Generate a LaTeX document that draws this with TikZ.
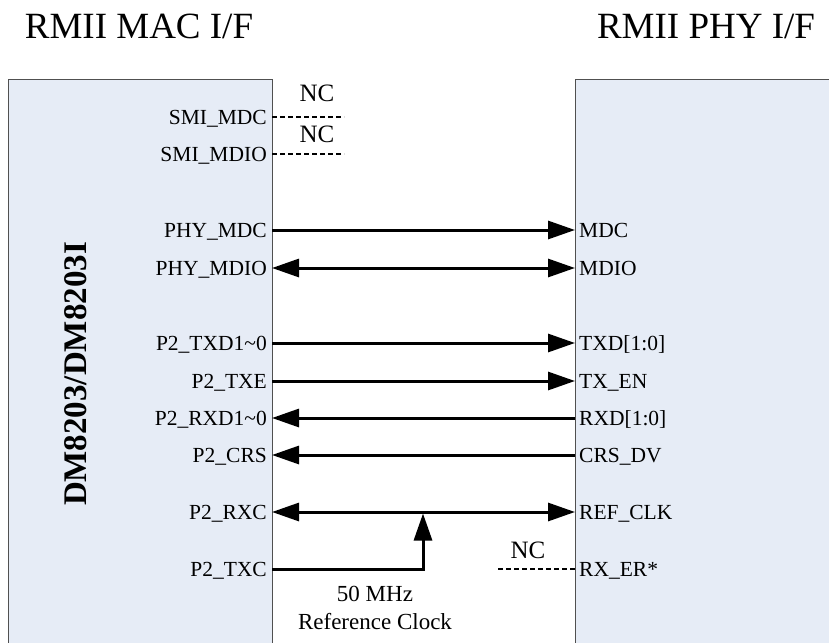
\documentclass[tikz,border=0pt]{standalone}
\usepackage{fontspec}
\setmainfont{Liberation Serif}
\usetikzlibrary{arrows.meta}
\definecolor{boxfill}{RGB}{230,236,246}
\definecolor{boxline}{RGB}{80,80,80}
\begin{document}
\begin{tikzpicture}[x=1pt,y=-1pt,
  box/.style={draw=boxline, line width=1.2pt, fill=boxfill, rectangle, inner sep=0pt, anchor=north west},
  lbl/.style={font=\fontsize{21.5}{21.5}\selectfont, inner sep=0pt},
  ttl/.style={font=\fontsize{37}{37}\selectfont, inner sep=0pt},
  sig/.style={line width=3pt, -{Triangle[length=27pt,width=18pt]}},
  bsig/.style={line width=3pt, {Triangle[length=27pt,width=18pt]}-{Triangle[length=27pt,width=18pt]}},
  rsig/.style={line width=3pt, {Triangle[length=27pt,width=18pt]}-},
  nc/.style={line width=2pt, dash pattern=on 5pt off 3pt},
  nctext/.style={font=\fontsize{25}{25}\selectfont, inner sep=0pt, anchor=base},
  clk/.style={font=\fontsize{23}{23}\selectfont, inner sep=0pt, anchor=base}]
\useasboundingbox (0,0) rectangle (829,642);
\clip (0,0) rectangle (829,642);
% titles
\node[ttl, anchor=base] (tmac) at (139,38) {RMII MAC I/F};
\node[ttl, anchor=base] (tphy) at (706,38) {RMII PHY I/F};
% boxes
\node[box, minimum width=264pt, minimum height=600pt] (mac) at (8,79) {};
\node[box, minimum width=280pt, minimum height=600pt] (phy) at (575,79) {};
\node[font=\fontsize{33}{33}\bfseries\selectfont, rotate=90, inner sep=0pt] (chip) at (76,374) {DM8203/DM8203I};
% left labels
\foreach \nm/\t/\y in {smimdc/SMI\_MDC/117, smimdio/SMI\_MDIO/154, phymdc/PHY\_MDC/230, phymdio/PHY\_MDIO/268,
  txd/P2\_TXD1\textasciitilde0/343, txe/P2\_TXE/381, rxd/P2\_RXD1\textasciitilde0/418, crs/P2\_CRS/455,
  rxc/P2\_RXC/512, txc/P2\_TXC/569}{
  \node[lbl, anchor=base east] (l\nm) at (267,\y+7.5) {\t};
  \coordinate (L\nm) at (272,\y);
}
% right labels
\foreach \nm/\t/\y in {mdc/MDC/230, mdio/MDIO/268, txd/TXD[1:0]/343, txen/TX\_EN/381, rxd/RXD[1:0]/418,
  crsdv/CRS\_DV/455, refclk/REF\_CLK/512, rxer/RX\_ER*/569}{
  \node[lbl, anchor=base west] (r\nm) at (579,\y+7.5) {\t};
  \coordinate (R\nm) at (575,\y);
}
% NC lines
\coordinate (E1) at (344,117);
\coordinate (E2) at (344,154);
\coordinate (E3) at (498,569);
\draw[nc] (Lsmimdc) -- (E1);
\draw[nc] (Lsmimdio) -- (E2);
\draw[nc] (E3) -- (Rrxer);
\node[nctext] (nc1) at (317,101) {NC};
\node[nctext] (nc2) at (317,142) {NC};
\node[nctext] (nc3) at (528,558) {NC};
% signals
\draw[sig] (Lphymdc) -- (Rmdc);
\draw[bsig] (Lphymdio) -- (Rmdio);
\draw[sig] (Ltxd) -- (Rtxd);
\draw[sig] (Ltxe) -- (Rtxen);
\draw[rsig] (Lrxd) -- (Rrxd);
\draw[rsig] (Lcrs) -- (Rcrsdv);
\draw[bsig] (Lrxc) -- (Rrefclk);
\coordinate (J) at (423,513.5);
\draw[line width=3pt, -{Triangle[length=27pt,width=18pt]}] (Ltxc) -| (J);
% clock text
\node[clk] (f50) at (375,601) {50 MHz};
\node[clk] (refc) at (375,629) {Reference Clock};
\end{tikzpicture}
\end{document}
